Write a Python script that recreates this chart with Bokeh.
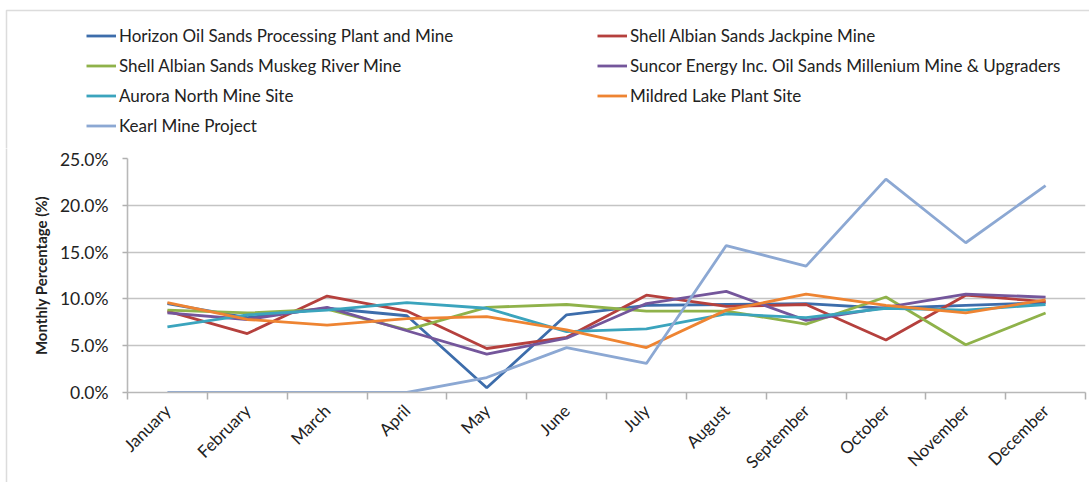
import math
from bokeh.plotting import figure
from bokeh.layouts import column, row
from bokeh.models import (Legend, LegendItem, FixedTicker, PrintfTickFormatter,
                          BoxAnnotation, Range1d)
from bokeh.embed import file_html
from bokeh.resources import INLINE

months = ["January", "February", "March", "April", "May", "June", "July",
          "August", "September", "October", "November", "December"]

horizon = [9.5, 8.0, 9.0, 8.2, 0.5, 8.3, 9.3, 9.4, 9.5, 9.0, 9.3, 9.6]
jackpine = [8.7, 6.3, 10.3, 8.7, 4.7, 5.9, 10.4, 9.2, 9.4, 5.6, 10.4, 9.7]
muskeg = [8.8, 8.5, 8.9, 6.7, 9.1, 9.4, 8.7, 8.7, 7.3, 10.2, 5.1, 8.5]
suncor = [8.5, 7.8, 9.1, 6.6, 4.1, 5.8, 9.5, 10.8, 7.7, 9.1, 10.5, 10.2]
aurora = [7.0, 8.3, 8.8, 9.6, 9.0, 6.5, 6.8, 8.4, 8.0, 9.0, 8.8, 9.4]
mildred = [9.6, 7.8, 7.2, 7.9, 8.1, 6.7, 4.8, 8.8, 10.5, 9.3, 8.5, 9.9]
kearl = [0.0, 0.0, 0.0, 0.0, 1.6, 4.8, 3.1, 15.7, 13.5, 22.8, 16.0, 22.1]

series_names = ["Horizon Oil Sands Processing Plant and Mine",
                "Shell Albian Sands Jackpine Mine",
                "Shell Albian Sands Muskeg River Mine",
                "Suncor Energy Inc. Oil Sands Millenium Mine & Upgraders",
                "Aurora North Mine Site",
                "Mildred Lake Plant Site",
                "Kearl Mine Project"]
series_values = [horizon, jackpine, muskeg, suncor, aurora, mildred, kearl]
series_colors = ["#3D6DAB", "#B5403D", "#8FB24A", "#74569B", "#3BA4BD", "#EE8432", "#8CA8D3"]

y_ticks = [0, 5, 10, 15, 20, 25]

FONT = "Lato"
TXT = "#222222"
BORDER = "#8a8a8a"
LW = 2.8

W, H = 1089, 482
TOP_H = 148          # legend strip height
MAIN_H = H - TOP_H   # main chart height (frame top at 158)
EDGE_W = 20
NAN = float("nan")

# ---------------- legend strip (top) ----------------
top = figure(width=W, height=TOP_H, output_backend="svg", toolbar_location=None,
             x_range=Range1d(0, W), y_range=Range1d(0, TOP_H),
             x_axis_type=None, y_axis_type=None,
             min_border=0, min_border_left=0, min_border_right=0,
             min_border_top=0, min_border_bottom=0)
top.outline_line_color = None
top.grid.visible = False
top.frame_align = False

dummy = []
for col in series_colors:
    dummy.append(top.line(x=[NAN, NAN], y=[NAN, NAN], line_color=col, line_width=LW))


def make_legend(idx, loc):
    items = [LegendItem(label=series_names[i], renderers=[dummy[i]]) for i in idx]
    return Legend(items=items, location=loc, orientation="vertical",
                  label_text_font=FONT, label_text_font_size="17px",
                  label_text_color=TXT, glyph_width=30, glyph_height=21,
                  label_height=21, label_standoff=3, spacing=9, padding=0,
                  margin=0, border_line_color=None, background_fill_alpha=0)


top.add_layout(make_legend([0, 2, 4, 6], (86, 12.5)), "center")
top.add_layout(make_legend([1, 3, 5], (597, 42.5)), "center")
top.add_layout(BoxAnnotation(left=6, right=3000, top=TOP_H - 10, bottom=-3000,
                             left_units="screen", right_units="screen",
                             top_units="screen", bottom_units="screen",
                             fill_alpha=0, line_color=BORDER, line_width=1.5))

# ---------------- left edge strip ----------------
edge = figure(width=EDGE_W, height=MAIN_H, output_backend="svg", toolbar_location=None,
              x_range=Range1d(0, EDGE_W), y_range=Range1d(0, MAIN_H),
              x_axis_type=None, y_axis_type=None,
              min_border=0, min_border_left=0, min_border_right=0,
              min_border_top=0, min_border_bottom=0)
edge.outline_line_color = None
edge.grid.visible = False
edge.frame_align = False
edge.add_layout(BoxAnnotation(left=6, right=3000, top=3000, bottom=-3000,
                              left_units="screen", right_units="screen",
                              top_units="screen", bottom_units="screen",
                              fill_alpha=0, line_color=BORDER, line_width=1.5))

# ---------------- main chart ----------------
xs = [i + 0.5 for i in range(len(months))]

p = figure(width=W - EDGE_W, height=MAIN_H, output_backend="svg", toolbar_location=None,
           x_range=Range1d(0, len(months)), y_range=Range1d(0, 25),
           min_border_left=127 - EDGE_W, min_border_right=4, min_border_top=10,
           min_border_bottom=90)
p.outline_line_color = None
p.frame_align = False

for vals, col in zip(series_values, series_colors):
    p.line(xs, vals, line_color=col, line_width=LW)

p.xgrid.visible = False
p.ygrid.ticker = FixedTicker(ticks=y_ticks)
p.ygrid.grid_line_color = "#c4c4c4"
p.ygrid.grid_line_width = 1.6

xa = p.xaxis[0]
xa.ticker = FixedTicker(ticks=xs, minor_ticks=list(range(len(months) + 1)))
xa.major_label_overrides = {x: m for x, m in zip(xs, months)}
xa.major_label_orientation = math.pi / 4
xa.major_tick_line_color = None
xa.minor_tick_line_color = "#b0b0b0"
xa.minor_tick_in = 0
xa.minor_tick_out = 7
xa.minor_tick_line_width = 1.5
xa.axis_line_color = "#b8b8b8"
xa.axis_line_width = 1.6
xa.major_label_text_font = FONT
xa.major_label_text_font_size = "17px"
xa.major_label_text_color = TXT
xa.major_label_standoff = 8

ya = p.yaxis[0]
ya.ticker = FixedTicker(ticks=y_ticks)
ya.formatter = PrintfTickFormatter(format="%.1f%%")
ya.major_tick_in = 0
ya.major_tick_out = 5
ya.major_tick_line_color = "#b0b0b0"
ya.major_tick_line_width = 1.5
ya.minor_tick_line_color = None
ya.axis_line_color = "#b8b8b8"
ya.axis_line_width = 1.6
ya.major_label_text_font = FONT
ya.major_label_text_font_size = "17.5px"
ya.major_label_text_color = TXT
ya.major_label_standoff = 14
ya.axis_label = "Monthly Percentage (%)"
ya.axis_label_text_font = FONT
ya.axis_label_text_font_size = "15px"
ya.axis_label_text_font_style = "bold"
ya.axis_label_text_color = TXT
ya.axis_label_standoff = 7

layout = column(top, row(edge, p, spacing=0), spacing=0)

open("out.html", "w").write(file_html(layout, INLINE))
